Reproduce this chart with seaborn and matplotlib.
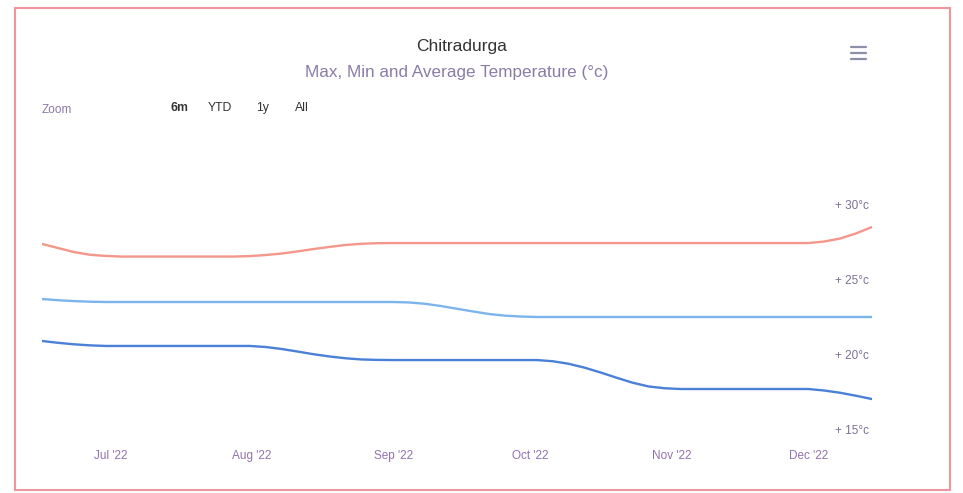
import numpy as np
import pandas as pd
import matplotlib
matplotlib.use("Agg")
import matplotlib.pyplot as plt
import seaborn as sns
from matplotlib.patches import Rectangle
from matplotlib.lines import Line2D

# ---------------- data (samples every 3.5 days) ----------------
dates = pd.date_range("2022-06-16", periods=53, freq="84h")
max_temp = ([27.47, 27.2, 26.93, 26.75, 26.67]
            + [26.63] * 8
            + [26.66, 26.73, 26.83, 26.97, 27.13, 27.27, 27.4, 27.48, 27.52]
            + [27.53] * 27
            + [27.63, 27.83, 28.17, 28.6])
avg_temp = ([23.8, 23.72, 23.66, 23.62]
            + [23.6] * 19
            + [23.57, 23.48, 23.33, 23.15, 22.97, 22.8, 22.69, 22.63]
            + [22.6] * 22)
min_temp = ([21.0, 20.88, 20.78, 20.71]
            + [20.67] * 10
            + [20.6, 20.47, 20.3, 20.12, 19.97, 19.85, 19.77, 19.74]
            + [19.73] * 10
            + [19.65, 19.48, 19.22, 18.9, 18.55, 18.22, 17.97, 17.85, 17.8]
            + [17.8] * 8
            + [17.7, 17.55, 17.35, 17.13])
series_names = ["Max", "Average", "Min"]
series_colors = ["#f4978a", "#7cb5ec", "#4a80d6"]
ytick_values = [15, 20, 25, 30]
ytick_labels = ["+ 15°c", "+ 20°c", "+ 25°c", "+ 30°c"]
xtick_dates = pd.date_range("2022-07-01", periods=6, freq="MS")
xtick_labels = ["Jul '22", "Aug '22", "Sep '22", "Oct '22", "Nov '22", "Dec '22"]
title = "Chitradurga"
subtitle = "Max, Min and Average Temperature (°c)"
zoom_buttons = ["6m", "YTD", "1y", "All"]

# ---------------- style ----------------
sns.set_theme(style="white")
plt.rcParams["font.family"] = ["Liberation Sans", "DejaVu Sans"]

df = pd.DataFrame({
    "date": np.tile(dates, 3),
    "temp": max_temp + avg_temp + min_temp,
    "series": np.repeat(series_names, len(dates)),
})

W, H = 963, 493
fig = plt.figure(figsize=(W / 100, H / 100), dpi=100)
fig.patch.set_facecolor("white")

ax_left, ax_right, ax_top, ax_bottom = 42, 872, 185, 440
ax = fig.add_axes([ax_left / W, 1 - ax_bottom / H, (ax_right - ax_left) / W, (ax_bottom - ax_top) / H])
ax.set_facecolor("none")

sns.lineplot(data=df, x="date", y="temp", hue="series",
             palette=dict(zip(series_names, series_colors)),
             linewidth=1.7, legend=False, ax=ax)

ax.set_xlim(dates[0], dates[-1])
ax.set_ylim(14.4, 31.4)
ax.set_xlabel("")
ax.set_ylabel("")
for s in ax.spines.values():
    s.set_visible(False)

ax.set_xticks(xtick_dates)
ax.set_xticklabels(xtick_labels)
ax.tick_params(axis="x", length=0, pad=7, labelsize=8.5, labelcolor="#9270b0")

ax.yaxis.tick_right()
ax.set_yticks(ytick_values)
ax.set_yticklabels(ytick_labels)
ax.tick_params(axis="y", length=0, pad=-2, labelsize=8.5, labelcolor="#7d6f96")
for lbl in ax.get_yticklabels():
    lbl.set_horizontalalignment("right")
    lbl.set_verticalalignment("center")

# ---------------- titles / controls ----------------
fig.text(462 / W, 1 - 46 / H, title, ha="center", va="center", fontsize=12.5, color="#333333")
fig.text(457 / W, 1 - 73 / H, subtitle, ha="center", va="center", fontsize=12.3, color="#8a7ca8")

fig.text(42 / W, 1 - 110 / H, "Zoom", ha="left", va="center", fontsize=8.5, color="#8a78a8")
btn_x = [170, 208, 256, 295]
for bx, b in zip(btn_x, zoom_buttons):
    fig.text(bx / W, 1 - 108 / H, b, ha="left", va="center", fontsize=8.8,
             color="#333333", fontweight="bold" if b == "6m" else "normal")

# menu icon
for yy in (47, 53, 59):
    fig.add_artist(Line2D([851 / W, 866 / W], [1 - yy / H, 1 - yy / H],
                          transform=fig.transFigure, color="#8a90aa", lw=1.6))

# outer frame
fig.add_artist(Rectangle((15 / W, 1 - 490 / H), (950 - 15) / W, (490 - 8) / H,
                         transform=fig.transFigure, fill=False, edgecolor="#ee95a0", lw=1.5))

fig.savefig("out.png", dpi=100)
